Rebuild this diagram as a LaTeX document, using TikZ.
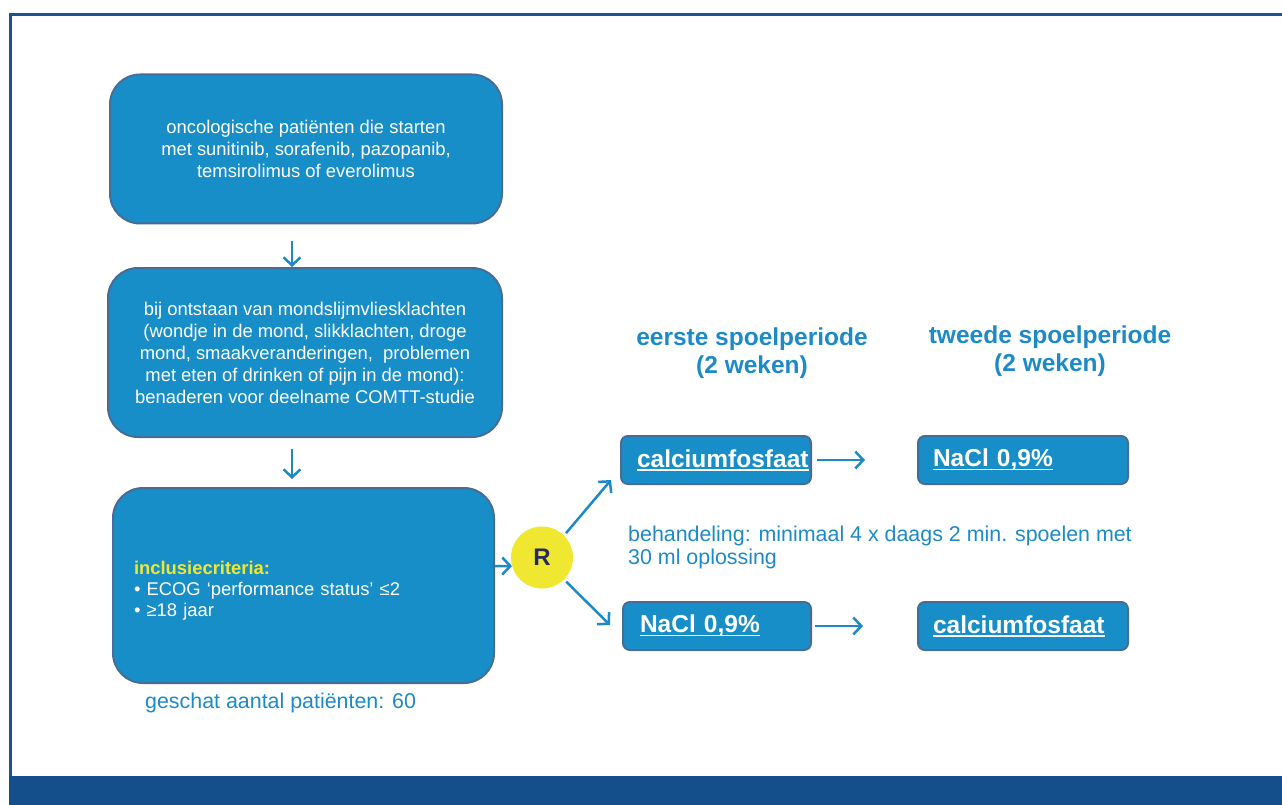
\documentclass[tikz,border=0pt]{standalone}
\usepackage{fontspec}
\setmainfont{Liberation Sans}
\usetikzlibrary{arrows.meta}
\definecolor{vak}{RGB}{23,142,200}
\definecolor{rand}{RGB}{72,108,150}
\definecolor{tekst}{RGB}{28,138,200}
\definecolor{kader}{RGB}{30,82,145}
\definecolor{balk}{RGB}{20,79,140}
\definecolor{geel}{RGB}{240,232,48}
\definecolor{navy}{RGB}{40,42,90}
\newcommand{\onderstreep}[1]{{\setbox0=\hbox{#1}\rlap{\rule[-3.5pt]{\wd0}{1.8pt}}\box0}}

\begin{document}
\begin{tikzpicture}[x=1pt,y=-1pt,
 blok/.style={draw=rand,line width=2pt,fill=vak,rounded corners=30pt,text=white,
  font=\fontsize{18.4}{22}\selectfont,align=center},
 klein/.style={draw=rand,line width=2pt,fill=vak,rounded corners=7pt,text=white,
  font=\bfseries\fontsize{24.5}{28}\selectfont,align=left,inner xsep=0pt,inner ysep=0pt,
  minimum height=48pt,anchor=west},
 kop/.style={text=tekst,font=\bfseries\fontsize{24.5}{28}\selectfont,align=center},
 uitleg/.style={text=tekst,font=\fontsize{21.4}{23}\selectfont,align=left,inner sep=0pt,anchor=west},
 pijl/.style={draw=tekst,line width=2.5pt,-{Straight Barb[length=8pt,width=17pt]}}]
\useasboundingbox (0,0) rectangle (1282,805);
% kader
\draw[kader,line width=2.5pt] (1282,14.5) -- (10.5,14.5) -- (10.5,776);
\fill[balk] (9,776) rectangle (1282,805);
% linker kolom
\node[blok,minimum width=392pt,minimum height=149pt] (box1) at (306,149)
 {oncologische patiënten die starten\\met sunitinib, sorafenib, pazopanib,\\temsirolimus of everolimus};
\node[blok,minimum width=394pt,minimum height=169pt] (box2) at (305,352.5)
 {bij ontstaan van mondslijmvliesklachten\\(wondje in de mond, slikklachten, droge\\mond, smaakveranderingen,\ \ problemen\\met eten of drinken of pijn in de mond):\\benaderen voor deelname COMTT-studie};
\node[blok,align=left,text width=339pt,inner xsep=21pt,minimum height=195pt,
 font=\fontsize{18.4}{21}\selectfont] (box3) at (303.5,585.5)
 {\rule{0pt}{24pt}{\color{geel}\bfseries inclusiecriteria:}\\• ECOG ‘performance status’ ≤2\\• ≥18 jaar};
\node[uitleg] (aantal) at (145,703) {geschat aantal patiënten: 60};
\draw[pijl,shorten <=16pt] ([xshift=-14pt]box1.south) -- ([xshift=-13pt]box2.north);
\draw[pijl,shorten <=11pt,shorten >=8pt] ([xshift=-13pt]box2.south) -- ([xshift=-11.5pt]box3.north);
% randomisatie
\node[circle,fill=geel,minimum size=62pt,inner sep=0pt,text=navy,
 font=\bfseries\fontsize{24}{24}\selectfont] (R) at (542,557.5) {R};
\draw[pijl] ([yshift=19.5pt]box3.east) -- (R.196);
% spoelperiodes
\node[kop] (kop1) at (752,353) {eerste spoelperiode\\(2 weken)};
\node[kop] (kop2) at (1050,351.5) {tweede spoelperiode\\(2 weken)};
\node[klein,text width=190pt] (cal1) at (620,460) {\hspace*{16pt}\onderstreep{calciumfosfaat}};
\node[klein,text width=210pt] (nacl2) at (917,460) {\hspace*{15pt}\onderstreep{NaCl 0,9\%}};
\node[klein,text width=188pt] (nacl1) at (622,626) {\hspace*{17pt}\onderstreep{NaCl 0,9\%}};
\node[klein,text width=210pt] (cal2) at (917,626) {\hspace*{15pt}\onderstreep{calciumfosfaat}};
\node[uitleg] (beh) at (628,547) {behandeling: minimaal 4 x daags 2 min. spoelen met\\30 ml oplossing};
\coordinate (boven) at (611,480);
\coordinate (onder) at (610,625);
\draw[pijl,shorten <=3pt] (R.45) -- (boven);
\draw[pijl,shorten <=3pt] (R.-45) -- (onder);
\draw[pijl,shorten <=5pt,shorten >=52pt] (cal1.east) -- (nacl2.west);
\draw[pijl,shorten <=3pt,shorten >=54pt] (nacl1.east) -- (cal2.west);
\end{tikzpicture}
\end{document}
